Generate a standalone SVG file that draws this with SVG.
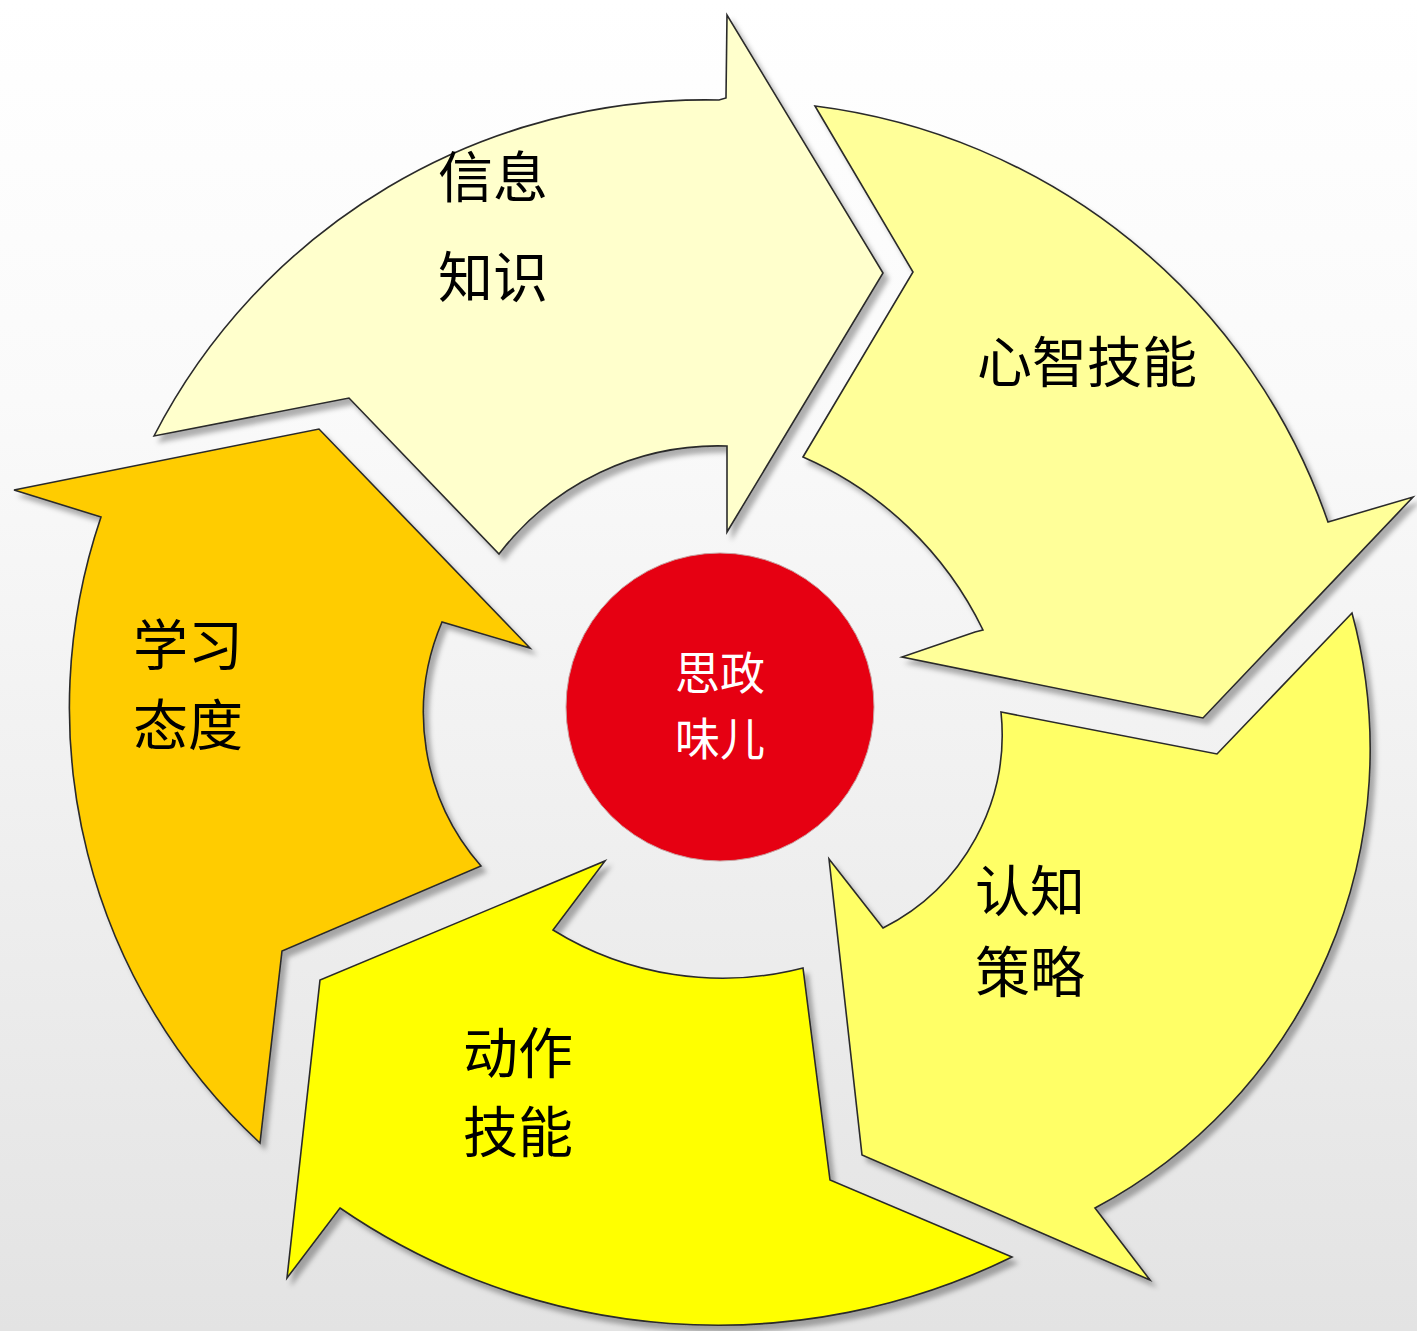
<svg xmlns="http://www.w3.org/2000/svg" width="1417" height="1331" viewBox="0 0 1417 1331">
  <defs>
    <linearGradient id="bg" x1="0" y1="0" x2="0" y2="1">
      <stop offset="0" stop-color="#ffffff"/>
      <stop offset="0.3" stop-color="#fafafa"/>
      <stop offset="1" stop-color="#e3e3e3"/>
    </linearGradient>
    <filter id="shadow" x="-10%" y="-10%" width="120%" height="120%">
      <feDropShadow dx="5" dy="6" stdDeviation="2.5" flood-color="#000" flood-opacity="0.3"/>
    </filter>
  </defs>
  <style>
    .arrow { stroke: #2a2a2a; stroke-width: 1.6; stroke-linejoin: miter; filter: url(#shadow); }
    .lbl { font-family: "Noto Sans CJK SC", "Noto Sans", sans-serif; font-size: 55px; fill: #000000; }
    .ctr { font-family: "Noto Sans CJK SC", "Noto Sans", sans-serif; font-size: 45px; fill: #ffffff; text-anchor: middle; }
  </style>
  <rect x="0" y="0" width="1417" height="1331" fill="url(#bg)"/>

  <g id="node-xinxi">
    <path class="arrow" fill="#FFFFCC" d="M154,436 A620,620 0 0,1 719,100 L726,98 L727,15 L883,273 L727,532 L727,446 A276,276 0 0,0 499,554 L349,398 Z"/>
    <text class="lbl" x="438" y="197">信息</text>
    <text class="lbl" x="438" y="297">知识</text>
  </g>

  <g id="node-xinzhi">
    <path class="arrow" fill="#FFFF99" d="M815,106 L913,272 L803,457 A360,360 0 0,1 983,630 L975,632 L902,657 L1203,718 L1413,497 L1328,522 A625,625 0 0,0 815,106 Z"/>
    <text class="lbl" x="977" y="382">心智技能</text>
  </g>

  <g id="node-renzhi">
    <path class="arrow" fill="#FFFF66" d="M1352,613 L1217,754 L1001,712 A217,217 0 0,1 883,928 L829,859 L862,1155 L1150,1280 L1095,1208 A520,520 0 0,0 1352,613 Z"/>
    <text class="lbl" x="975" y="911">认知</text>
    <text class="lbl" x="975" y="992">策略</text>
  </g>

  <g id="node-dongzuo">
    <path class="arrow" fill="#FFFF00" d="M1012,1257 L830,1180 L803,968 A322,322 0 0,1 553,930 L605,861 L320,980 L287,1278 L340,1208 A668,668 0 0,0 1012,1257 Z"/>
    <text class="lbl" x="463" y="1073">动作</text>
    <text class="lbl" x="463" y="1152">技能</text>
  </g>

  <g id="node-xuexi">
    <path class="arrow" fill="#FFCC00" d="M260,1143 L282,951 L481,866 A232,232 0 0,1 442,622 L530,648 L319,429 L14,490 L101,517 A592,592 0 0,0 260,1143 Z"/>
    <text class="lbl" x="133" y="665">学习</text>
    <text class="lbl" x="133" y="745">态度</text>
  </g>

  <g id="node-center">
    <circle cx="720" cy="707" r="154" fill="#E60012" stroke="#c9a0a0" stroke-width="1"/>
    <text class="ctr" x="720" y="690">思政</text>
    <text class="ctr" x="720" y="756">味儿</text>
  </g>

  <g id="connectors"/>
</svg>
